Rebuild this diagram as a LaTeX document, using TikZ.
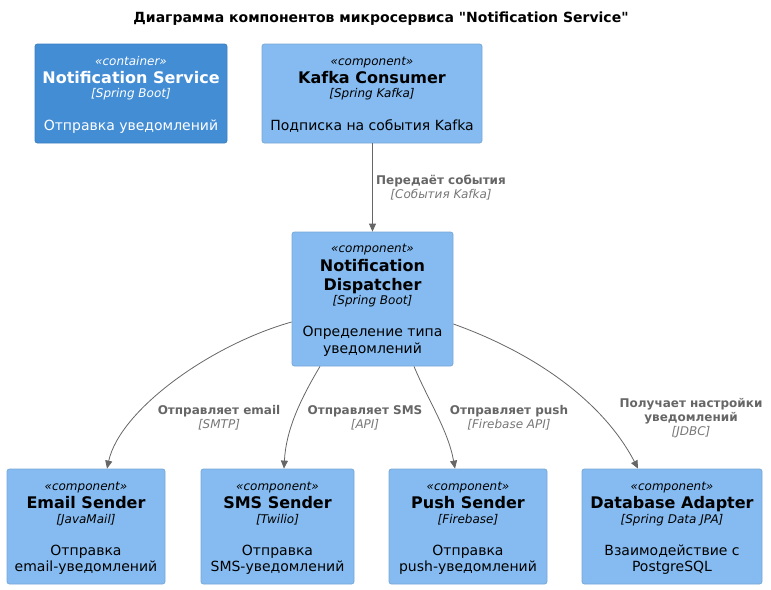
\documentclass[tikz,border=0pt]{standalone}
\usepackage{fontspec}
\setmainfont{DejaVu Sans}[Ligatures=TeXOff]
\usetikzlibrary{arrows.meta}
\definecolor{contfill}{HTML}{438DD5}
\definecolor{contdraw}{HTML}{3C7FC0}
\definecolor{compfill}{HTML}{85BBF0}
\definecolor{compdraw}{HTML}{78A8D8}
\definecolor{edgecol}{HTML}{666666}
\definecolor{labcol}{HTML}{666666}
\definecolor{techcol}{HTML}{777777}
\tikzset{
  cont/.style={draw=contdraw, fill=contfill, rounded corners=2.5pt, line width=0.8pt, inner sep=0},
  comp/.style={draw=compdraw, fill=compfill, rounded corners=2.5pt, line width=0.8pt, inner sep=0},
  txt/.style={inner sep=0, anchor=base},
  stereo/.style={txt, font=\fontsize{12}{14}\selectfont\itshape},
  cname/.style={txt, font=\fontsize{16}{19}\selectfont\bfseries},
  tech/.style={txt, font=\fontsize{12}{14}\selectfont\itshape},
  desc/.style={txt, font=\fontsize{14}{16}\selectfont},
  elab/.style={txt, text=labcol, font=\fontsize{12}{14}\selectfont\bfseries},
  etech/.style={txt, text=techcol, font=\fontsize{12}{14}\selectfont\itshape},
  arr/.style={draw=edgecol, line width=0.8pt, -{Triangle[length=8pt,width=7pt]}},
}
\begin{document}
\begin{tikzpicture}[x=1pt,y=-1pt]
\useasboundingbox (0,0) rectangle (771,589);
\node[txt, font=\fontsize{14}{16}\selectfont\bfseries] (title) at (381,23) {Диаграмма компонентов микросервиса "Notification Service"};

% Notification Service container
\node[cont, minimum width=192pt, minimum height=99pt] (ns) at (131,93.5) {};
\begin{scope}[every node/.append style={text=white}]
\node[stereo] (ns1) at (131,65) {«container»};
\node[cname] (ns2) at (131,83) {Notification Service};
\node[tech] (ns3) at (131,97) {[Spring Boot]};
\node[desc] (ns4) at (131,130) {Отправка уведомлений};
\end{scope}

% Kafka Consumer
\node[comp, minimum width=220pt, minimum height=99pt] (kc) at (372,93.5) {};
\node[stereo] (kc1) at (372,65) {«component»};
\node[cname] (kc2) at (372,83) {Kafka Consumer};
\node[tech] (kc3) at (372,97) {[Spring Kafka]};
\node[desc] (kc4) at (372,130) {Подписка на события Kafka};

% Dispatcher
\node[comp, minimum width=161pt, minimum height=134pt] (disp) at (372.5,299) {};
\node[stereo] (d1) at (372.5,252) {«component»};
\node[cname] (d2) at (372.5,271) {Notification};
\node[cname] (d3) at (372.5,290) {Dispatcher};
\node[tech] (d4) at (372.5,304) {[Spring Boot]};
\node[desc] (d5) at (372.5,336) {Определение типа};
\node[desc] (d6) at (372.5,353) {уведомлений};

% Email Sender
\node[comp, minimum width=158pt, minimum height=115pt] (email) at (86,526.5) {};
\node[stereo] (e1) at (86,490) {«component»};
\node[cname] (e2) at (86,508) {Email Sender};
\node[tech] (e3) at (86,523) {[JavaMail]};
\node[desc] (e4) at (86,555) {Отправка};
\node[desc] (e5) at (86,571) {email-уведомлений};

% SMS Sender
\node[comp, minimum width=153pt, minimum height=115pt] (sms) at (277.5,526.5) {};
\node[stereo] (s1) at (277.5,490) {«component»};
\node[cname] (s2) at (277.5,508) {SMS Sender};
\node[tech] (s3) at (277.5,523) {[Twilio]};
\node[desc] (s4) at (277.5,555) {Отправка};
\node[desc] (s5) at (277.5,571) {SMS-уведомлений};

% Push Sender
\node[comp, minimum width=158pt, minimum height=115pt] (push) at (468,526.5) {};
\node[stereo] (p1) at (468,490) {«component»};
\node[cname] (p2) at (468,508) {Push Sender};
\node[tech] (p3) at (468,523) {[Firebase]};
\node[desc] (p4) at (468,555) {Отправка};
\node[desc] (p5) at (468,571) {push-уведомлений};

% Database Adapter
\node[comp, minimum width=180pt, minimum height=115pt] (db) at (672,526.5) {};
\node[stereo] (b1) at (672,490) {«component»};
\node[cname] (b2) at (672,508) {Database Adapter};
\node[tech] (b3) at (672,523) {[Spring Data JPA]};
\node[desc] (b4) at (672,555) {Взаимодействие с};
\node[desc] (b5) at (672,571) {PostgreSQL};

% Edges
\draw[arr] ([xshift=0.5pt]kc.south) -- (disp.north);
\node[elab] (l1a) at (441,184) {Передаёт события};
\node[etech] (l1b) at (441,198) {[События Kafka]};

\draw[arr] ([yshift=-23pt]disp.west) .. controls (210,345) and (120,410) .. ([xshift=21pt]email.north);
\node[elab] (l2a) at (219,414) {Отправляет email};
\node[etech] (l2b) at (219,428) {[SMTP]};

\draw[arr] ([xshift=-52.5pt]disp.south) .. controls (300,400) and (286,430) .. ([xshift=6.5pt]sms.north);
\node[elab] (l3a) at (365,414) {Отправляет SMS};
\node[etech] (l3b) at (365,428) {[API]};

\draw[arr] ([xshift=41.5pt]disp.south) .. controls (428,400) and (448,430) .. ([xshift=-13pt]push.north);
\node[elab] (l4a) at (509,414) {Отправляет push};
\node[etech] (l4b) at (509,428) {[Firebase API]};

\draw[arr] ([yshift=-25pt]disp.east) .. controls (540,355) and (605,405) .. ([xshift=-34pt]db.north);
\node[elab] (l5a) at (691,407) {Получает настройки};
\node[elab] (l5b) at (691,421) {уведомлений};
\node[etech] (l5c) at (691,435) {[JDBC]};
\end{tikzpicture}
\end{document}
